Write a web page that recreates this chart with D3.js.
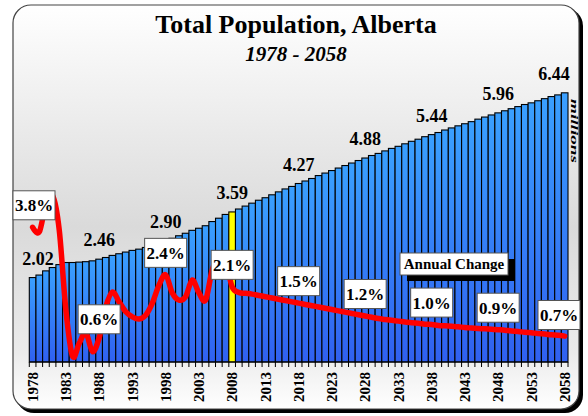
<!DOCTYPE html>
<html>
<head>
<meta charset="utf-8">
<script src="https://cdn.jsdelivr.net/npm/d3@7"></script>
<style>
body { margin: 0; background: #fff; }
svg { display: block; }
text { font-family: "Liberation Serif", "Times New Roman", serif; font-weight: bold; }
</style>
</head>
<body>
<svg id="chart" width="588" height="416"></svg>
<script>
// years 1978 - 2058
const years = d3.range(1978, 2059);

// total population, millions
const population = [
  2.02, 2.08, 2.18, 2.26, 2.33, 2.38, 2.38, 2.39, 2.40, 2.42,
  2.46, 2.50, 2.55, 2.59, 2.63, 2.67, 2.70, 2.74, 2.78, 2.84,
  2.90, 2.96, 3.02, 3.08, 3.15, 3.20, 3.26, 3.36, 3.44, 3.53,
  3.59, 3.66, 3.73, 3.80, 3.87, 3.93, 4.00, 4.07, 4.14, 4.20,
  4.27, 4.33, 4.39, 4.46, 4.52, 4.58, 4.64, 4.70, 4.76, 4.82,
  4.88, 4.94, 4.99, 5.05, 5.11, 5.16, 5.22, 5.28, 5.33, 5.39,
  5.44, 5.49, 5.55, 5.60, 5.65, 5.70, 5.75, 5.81, 5.86, 5.91,
  5.96, 6.01, 6.06, 6.11, 6.16, 6.20, 6.25, 6.30, 6.35, 6.39,
  6.44
];

// annual change, percent
const annualChange = [
  3.26, 3.15, 3.80, 4.00, 3.20, 1.33, 0.25, 0.55, 0.80, 0.36,
  0.68, 1.40, 1.75, 1.52, 1.29, 1.17, 1.12, 1.21, 1.49, 1.91,
  2.15, 1.73, 1.56, 1.64, 2.03, 1.73, 1.56, 2.26, 2.60, 2.50,
  1.87, 1.74, 1.72, 1.70, 1.67, 1.64, 1.61, 1.58, 1.55, 1.52,
  1.49, 1.46, 1.43, 1.40, 1.37, 1.34, 1.31, 1.28, 1.25, 1.22,
  1.19, 1.16, 1.13, 1.11, 1.09, 1.07, 1.05, 1.03, 1.02, 1.00,
  0.99, 0.97, 0.96, 0.95, 0.94, 0.92, 0.91, 0.90, 0.89, 0.88,
  0.87, 0.86, 0.84, 0.83, 0.81, 0.80, 0.78, 0.77, 0.75, 0.74,
  0.72
];

const labelYears = [1978, 1988, 1998, 2008, 2018, 2028, 2038, 2048, 2058];
const changeLabels = ["3.8%", "0.6%", "2.4%", "2.1%", "1.5%", "1.2%", "1.0%", "0.9%", "0.7%"];
const yearTicks = [1978, 1983, 1988, 1993, 1998, 2003, 2008, 2013, 2018, 2023, 2028, 2033, 2038, 2043, 2048, 2053, 2058];
const highlightYear = 2008;

const svg = d3.select("#chart");
const defs = svg.append("defs");

var bg = defs.append("linearGradient").attr("id", "bg").attr("x1", 0).attr("y1", 0).attr("x2", 0).attr("y2", 1);
bg.append("stop").attr("offset", "0%").attr("stop-color", "#ffffff");
bg.append("stop").attr("offset", "55%").attr("stop-color", "#dadada");
bg.append("stop").attr("offset", "86%").attr("stop-color", "#ebebeb");
bg.append("stop").attr("offset", "100%").attr("stop-color", "#ffffff");

var barGrad = defs.append("linearGradient").attr("id", "barGrad").attr("x1", 0).attr("y1", 0).attr("x2", 0).attr("y2", 1);
barGrad.append("stop").attr("offset", "0%").attr("stop-color", "#3aa0ff");
barGrad.append("stop").attr("offset", "100%").attr("stop-color", "#3060f0");

// frame with shadow
svg.append("rect").attr("x", 16).attr("y", 8).attr("width", 567).attr("height", 405)
  .attr("rx", 18).attr("fill", "#000");
svg.append("rect").attr("x", 13).attr("y", 5).attr("width", 566).attr("height", 404)
  .attr("rx", 18).attr("fill", "url(#bg)").attr("stroke", "#444").attr("stroke-width", 1.2);

var x = d3.scaleBand().domain(years).range([29.3, 568]).padding(0);
var y = d3.scaleLinear().domain([0, 7]).range([362, 69.4]);
var yPct = d3.scaleLinear().domain([0, 7]).range([367, 67]);

// title
svg.append("text").attr("x", 296).attr("y", 33).attr("text-anchor", "middle")
  .attr("font-size", 26).text("Total Population, Alberta");
svg.append("text").attr("x", 296).attr("y", 61).attr("text-anchor", "middle")
  .attr("font-size", 21).attr("font-style", "italic").text("1978 - 2058");

// bars
svg.append("g").selectAll("rect")
  .data(years)
  .join("rect")
  .attr("x", d => x(d))
  .attr("y", (d, i) => y(population[i]))
  .attr("width", x.bandwidth())
  .attr("height", (d, i) => y(0) - y(population[i]))
  .attr("fill", d => d === highlightYear ? "#ffff00" : "url(#barGrad)")
  .attr("stroke", "#000")
  .attr("stroke-width", 1.1);

// axis
var axisG = svg.append("g").attr("transform", "translate(0," + y(0) + ")");
axisG.append("line").attr("x1", x.range()[0]).attr("x2", x.range()[1]).attr("stroke", "#000").attr("stroke-width", 1.2);
axisG.selectAll("line.tick")
  .data(years.concat([null]))
  .join("line")
  .attr("class", "tick")
  .attr("x1", d => d === null ? x.range()[1] : x(d))
  .attr("x2", d => d === null ? x.range()[1] : x(d))
  .attr("y1", 0).attr("y2", 5)
  .attr("stroke", "#000");

var labelAxis = svg.append("g")
  .attr("transform", "translate(0," + (y(0) + 8) + ")")
  .call(d3.axisBottom(x).tickValues(yearTicks).tickSize(0).tickPadding(0));
labelAxis.select(".domain").remove();
labelAxis.selectAll("text")
  .attr("font-size", 15)
  .attr("font-family", "Liberation Serif, serif")
  .attr("font-weight", "bold")
  .attr("fill", "#000")
  .attr("transform", "rotate(-90)")
  .attr("text-anchor", "end")
  .attr("dy", "0.35em")
  .attr("x", -2)
  .attr("y", 0);

// line
var line = d3.line()
  .x((d, i) => x(years[i]) + x.bandwidth() / 2)
  .y(d => yPct(d))
  .curve(d3.curveCardinal.tension(0));
svg.append("path")
  .datum(annualChange)
  .attr("fill", "none")
  .attr("stroke", "#ff0000")
  .attr("stroke-width", 5.5)
  .attr("stroke-linejoin", "round")
  .attr("stroke-linecap", "round")
  .attr("d", line);

// population labels
svg.append("g").selectAll("text")
  .data(labelYears)
  .join("text")
  .attr("x", d => Math.max(38, Math.min(x(d) + x.bandwidth() / 2, 554)))
  .attr("y", d => y(population[years.indexOf(d)]) - 13)
  .attr("text-anchor", "middle")
  .attr("font-size", 18)
  .text(d => population[years.indexOf(d)].toFixed(2));

// change labels
var boxW = 42, boxH = 29;
var cl = svg.append("g").selectAll("g")
  .data(labelYears)
  .join("g")
  .attr("transform", (d, i) => {
    var cx = Math.max(34, Math.min(x(d) + x.bandwidth() / 2, 559));
    var cy = Math.max(yPct(parseFloat(changeLabels[i])), yPct(annualChange[years.indexOf(d)])) - 22;
    return "translate(" + cx + "," + cy + ")";
  });
cl.append("rect")
  .attr("x", -boxW / 2).attr("y", -boxH / 2)
  .attr("width", boxW).attr("height", boxH)
  .attr("fill", "#fff").attr("stroke", "#555").attr("stroke-width", 1);
cl.append("text")
  .attr("text-anchor", "middle")
  .attr("y", 6)
  .attr("font-size", 17)
  .text((d, i) => changeLabels[i]);

// legend
svg.append("rect").attr("x", 407).attr("y", 259).attr("width", 108).attr("height", 22).attr("fill", "#000");
svg.append("rect").attr("x", 400).attr("y", 253).attr("width", 108).attr("height", 22)
  .attr("fill", "#fff").attr("stroke", "#555").attr("stroke-width", 1);
svg.append("text").attr("x", 454).attr("y", 269).attr("text-anchor", "middle")
  .attr("font-size", 15).text("Annual Change");

// units
svg.append("text")
  .attr("transform", "translate(571,99) rotate(90)")
  .attr("font-size", 11)
  .attr("font-style", "italic")
  .attr("textLength", 64)
  .attr("lengthAdjust", "spacingAndGlyphs")
  .text("millions");
</script>
</body>
</html>
